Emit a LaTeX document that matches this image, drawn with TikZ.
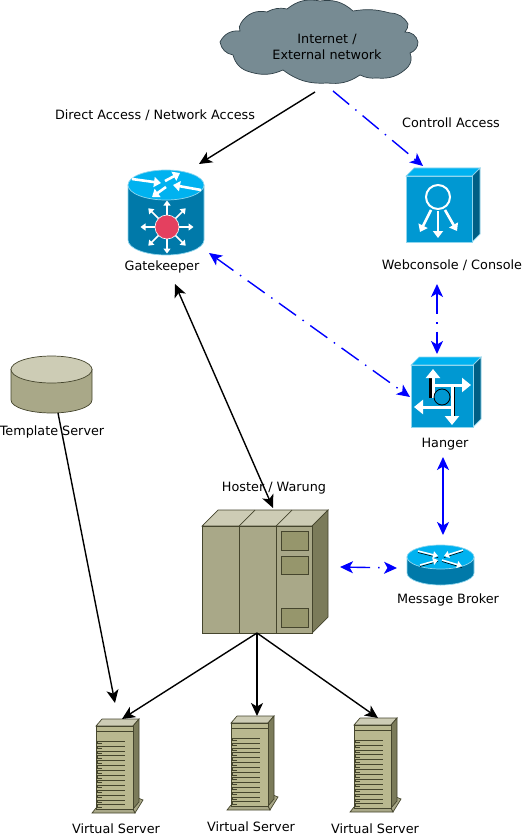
\documentclass[tikz,border=0pt]{standalone}
\usepackage{fontspec}
\setmainfont{DejaVu Sans}
\usetikzlibrary{arrows.meta,positioning}
\definecolor{cloudgray}{HTML}{778B93}
\definecolor{cloudline}{HTML}{2F4048}
\definecolor{ciscotop}{HTML}{00B2F0}
\definecolor{ciscofront}{HTML}{0098D2}
\definecolor{ciscoside}{HTML}{005F85}
\definecolor{ciscobody}{HTML}{0079A9}
\definecolor{ciscoline}{HTML}{8FD6EE}
\definecolor{reddot}{HTML}{E4405F}
\definecolor{olivetop}{HTML}{CDCCB5}
\definecolor{olivefront}{HTML}{A9A888}
\definecolor{oliveside}{HTML}{7B7B5A}
\definecolor{olivepanel}{HTML}{96966C}
\definecolor{oliveserver}{HTML}{B9B88F}
\definecolor{oliveline}{HTML}{45452D}
\tikzset{
    % Nodes and points
    invisible point/.style={circle,inner sep=0pt,outer sep=0pt,minimum size=0pt},
    device label/.style={inner sep=0pt,align=center,yshift=-1.5pt},
    %
    % Arrows
    arrow tip/.tip={Stealth[length=13pt,width=12pt,inset=3.5pt]},
    arr/.style={->,>={arrow tip},line width=1.4pt},
    darr/.style={<->,>={arrow tip},line width=1.4pt},
    dashdot line/.style={blue,dash pattern=on 21pt off 8pt on 1.5pt off 8pt},
    icon arrow/.style={-{Triangle[length=7pt,width=10pt]},white,line width=2.6pt},
    big arrow/.style={-{Triangle[length=9pt,width=14pt]},white,line width=3pt},
    small arrow/.style={-{Triangle[length=5pt,width=7pt]},white,line width=1.5pt},
    %
    % Devices
    cisco/.style={draw=ciscoline,line width=.7pt},
    olive/.style={draw=oliveline,line width=.7pt},
}
\tikzstyle{every node}=[font=\fontsize{12.8}{16}\selectfont]
% a virtual server, #1 is the shift
\newcommand{\virtualserver}[1]{
    \begin{scope}[shift={#1}]
        \draw[olive,fill=olivefront] (92,813) -- (96,808) -- (133,808) -- (135,813) -- cycle;
        \draw[olive,fill=olivefront] (133,809) -- (138,798) -- (143,800) -- (135,813) -- cycle;
        \draw[olive,fill=olivetop] (96,726) -- (102,719) -- (139,719) -- (133,726) -- cycle;
        \draw[olive,fill=oliveside] (133,726) -- (139,719) -- (139,802) -- (133,809) -- cycle;
        \draw[olive,fill=oliveserver] (96,726) rectangle (133,809);
        \draw[olive] (96,731) -- (133,731);
        \foreach \row in {0,...,13} {
            \draw[oliveline,line width=.5pt] (97,741+\row*4.9) -- (125,741+\row*4.9);
            \draw[oliveline,line width=.5pt] (97,741+\row*4.9) -- (97,743.5+\row*4.9) -- (102,743.5+\row*4.9);
        }
    \end{scope}
}
\begin{document}
\begin{tikzpicture}[x=1pt,y=-1pt]
    \useasboundingbox (0,0) rectangle (525,837);
    % cloud
    \draw[fill=cloudgray,draw=cloudline,line width=.7pt] (220,42)
        to[bend left=35] (240,31) to[bend left=30] (241,23) to[bend left=35] (267,12)
        to[bend left=20] (287,9) to[bend left=25] (320,1) to[bend left=25] (353,11)
        to[bend left=12] (390,13) to[bend left=30] (408,24) to[bend left=20] (405,32)
        to[bend left=40] (418,42) to[bend left=35] (410,53) to[bend left=30] (408,67)
        to[bend left=25] (377,78) to[bend left=15] (360,75) to[bend left=20] (327,83)
        to[bend left=20] (283,70) to[bend left=20] (250,72) to[bend left=30] (233,55)
        to[bend left=35] (220,42) -- cycle;
    \node[device label] (internet) at (327,45) {Internet /\\External network};
    %
    % gatekeeper
    \draw[cisco,fill=ciscobody] (128,185) -- (128,240) arc[start angle=180,end angle=0,x radius=38,y radius=15] -- (204,185) -- cycle;
    \draw[cisco,fill=ciscotop] (166,185) ellipse[x radius=38,y radius=15];
    \foreach \a/\b/\c/\d in {132/179/161/183,165/181/180/173,201/190/173/185,166/187/152/197}
        \draw[icon arrow] (\a,\b) -- (\c,\d);
    \foreach \ang in {0,45,...,315}
        \draw[small arrow] (167,227) ++(\ang:12) -- ++(\ang:14.5);
    \fill[reddot,draw=white,line width=.6pt] (167,227) circle (12);
    \node[device label] (gatekeeper) at (162,265) {Gatekeeper};
    %
    % webconsole
    \draw[cisco,fill=ciscotop] (406,176) -- (414,168) -- (480,168) -- (472,176) -- cycle;
    \draw[cisco,fill=ciscoside] (472,176) -- (480,168) -- (480,234) -- (472,242) -- cycle;
    \draw[cisco,fill=ciscofront] (406,176) rectangle (472,242);
    \draw[white,line width=2pt] (438,197) circle (12);
    \draw[icon arrow] (438,211) -- (438,238);
    \draw[icon arrow] (431,210) -- (420,232);
    \draw[icon arrow] (445,210) -- (457,231);
    \node[device label] (webconsole) at (452,264) {Webconsole / Console};
    %
    % hanger
    \draw[cisco,fill=ciscotop] (411,365) -- (419,357) -- (481,357) -- (473,365) -- cycle;
    \draw[cisco,fill=ciscoside] (473,365) -- (481,357) -- (481,419) -- (473,427) -- cycle;
    \draw[cisco,fill=ciscofront] (411,365) rectangle (473,427);
    \draw[black,line width=3.4pt] (431,398) -- (431,378) (453.5,387) -- (453.5,416);
    \draw[big arrow] (433,398) -- (433,369);
    \draw[big arrow] (433,385) -- (471,385);
    \draw[big arrow] (452,407) -- (414,407);
    \draw[big arrow] (452,385) -- (452,425);
    \draw[black,line width=.8pt,fill=ciscofront] (442,397) circle (8);
    \node[device label] (hanger) at (445,443) {Hanger};
    %
    % message broker
    \draw[cisco,fill=ciscobody] (407,557) -- (407,573) arc[start angle=180,end angle=0,x radius=33.5,y radius=12] -- (474,557) -- cycle;
    \draw[cisco,fill=ciscotop] (440.5,557) ellipse[x radius=33.5,y radius=12];
    \foreach \a/\b/\c/\d in {418/551/438/556,463/550/444/556,420/565/438/560,442/560/462/566} {
        \draw[black,line width=.6pt] (\a,\b+1.5) -- (\c,\d+1.5);
        \draw[small arrow] (\a,\b) -- (\c,\d);
    }
    \node[device label] (broker) at (448,598) {Message Broker};
    %
    % template server
    \draw[olive,fill=olivefront] (11,369) -- (11,400) arc[start angle=180,end angle=0,x radius=40.5,y radius=13] -- (92,369) -- cycle;
    \draw[olive,fill=olivetop] (51.5,369.5) ellipse[x radius=40.5,y radius=13.5];
    \node[device label] (template) at (52,430) {Template Server};
    %
    % hoster
    \draw[olive,fill=olivetop] (202,526) -- (218,510) -- (328,510) -- (312,526) -- cycle;
    \draw[olive] (239,526) -- (255,510) (276,526) -- (292,510);
    \draw[olive,fill=oliveside] (312,526) -- (328,510) -- (328,617) -- (312,633) -- cycle;
    \draw[olive,fill=olivefront] (202,526) rectangle (312,633);
    \draw[olive] (239,526) -- (239,633) (276,526) -- (276,633);
    \draw[olive,fill=olivepanel] (281,531) rectangle (308,550);
    \draw[olive,fill=olivepanel] (281,556) rectangle (308,574);
    \draw[olive,fill=olivepanel] (281,608) rectangle (308,627);
    \node[device label] (hoster) at (274,487) {Hoster / Warung};
    %
    % virtual servers
    \virtualserver{(0,0)}
    \virtualserver{(135,-3)}
    \virtualserver{(258,-1)}
    \node[device label] (virtual a) at (116,827) {Virtual Server};
    \node[device label] (virtual b) at (251,825) {Virtual Server};
    \node[device label] (virtual c) at (375,827) {Virtual Server};
    %
    % access labels
    \node[device label] (direct) at (155,114) {Direct Access / Network Access};
    \node[device label] (controll) at (451,121) {Controll Access};
    %
    % connector ends
    \node[invisible point] (cloud left) at (315,92) {};
    \node[invisible point] (cloud right) at (333,91) {};
    \node[invisible point] (gate top) at (199,164) {};
    \node[invisible point] (gate right) at (209,253) {};
    \node[invisible point] (gate bottom) at (175,284) {};
    \node[invisible point] (web top) at (423,166) {};
    \node[invisible point] (web bottom) at (437,284) {};
    \node[invisible point] (hanger top) at (437,354) {};
    \node[invisible point] (hanger left) at (410,397) {};
    \node[invisible point] (hanger bottom) at (443,457) {};
    \node[invisible point] (broker top) at (443,535) {};
    \node[invisible point] (broker left) at (397,568) {};
    \node[invisible point] (hoster top) at (273,508) {};
    \node[invisible point] (hoster right) at (340,567) {};
    \node[invisible point] (hoster bottom) at (257,633) {};
    \node[invisible point] (template bottom) at (58,413) {};
    \node[invisible point] (server a top) at (122,719) {};
    \node[invisible point] (server a left) at (115,703) {};
    \node[invisible point] (server b top) at (257,716) {};
    \node[invisible point] (server c top) at (378,718) {};
    %
    % connectors
    \draw[arr] (cloud left) -- (gate top);
    \draw[arr,dashdot line] (cloud right) -- (web top);
    \draw[darr,dashdot line] (gate right) -- (hanger left);
    \draw[darr,dashdot line] (web bottom) -- (hanger top);
    \draw[darr,blue] (hanger bottom) -- (broker top);
    \draw[darr,dashdot line] (hoster right) -- (broker left);
    \draw[darr] (gate bottom) -- (hoster top);
    \draw[arr] (template bottom) -- (server a left);
    \draw[arr] (hoster bottom) -- (server a top);
    \draw[arr] (hoster bottom) -- (server b top);
    \draw[arr] (hoster bottom) -- (server c top);
\end{tikzpicture}
\end{document}
